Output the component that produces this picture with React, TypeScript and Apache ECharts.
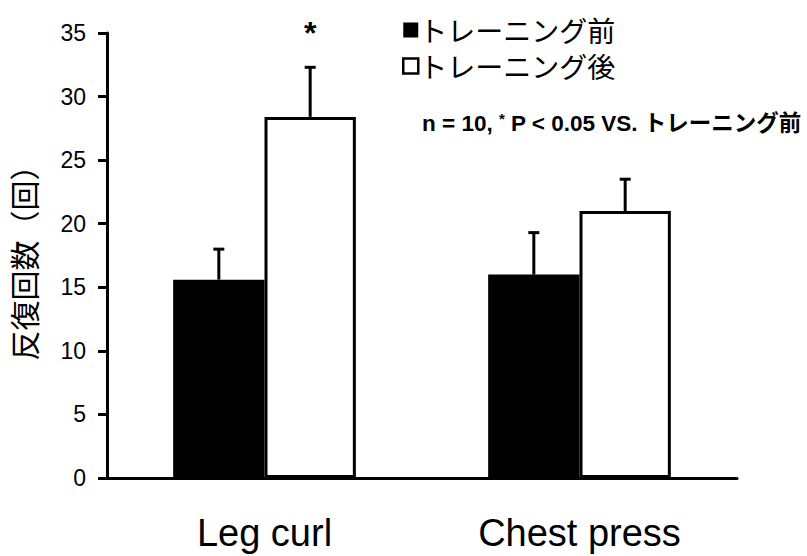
import React, { useEffect, useRef } from "react";
import * as echarts from "echarts";

const categories = ["Leg curl", "Chest press"];
const seriesNames = ["トレーニング前", "トレーニング後"];
const preValues = [15.6, 16.0];
const preErrorTop = [18.0, 19.3];
const postValues = [28.4, 21.0];
const postErrorTop = [32.3, 23.5];
const significance = ["*", ""];
const yAxisName = "反復回数（回）";
const noteText = "n = 10, {s|*} P < 0.05 VS. トレーニング前";

const SANS = "'Liberation Sans', Arial, 'Noto Sans CJK JP', sans-serif";
const CJK = "'Noto Sans CJK JP', sans-serif";
const CAT_GAP = 0.42;

function errorSeries(name: string, values: number[], tops: number[], sign: number, marks: string[]) {
  return {
    type: "custom",
    name: name + "-err",
    silent: true,
    z: 5,
    data: values.map((v, i) => [i, v, tops[i]]),
    renderItem: (params: any, api: any) => {
      const cat = api.value(0);
      const val = api.value(1);
      const top = api.value(2);
      const i = params.dataIndex;
      const band = api.size([1, 0])[0];
      const barW = (band * (1 - CAT_GAP)) / 2;
      const p0 = api.coord([cat, val]);
      const p1 = api.coord([cat, top]);
      const x = p0[0] + (sign * barW) / 2;
      const style = { stroke: "#000", lineWidth: 3 };
      const children: any[] = [
        { type: "line", shape: { x1: x, y1: p0[1], x2: x, y2: p1[1] }, style },
        { type: "line", shape: { x1: x - 5.5, y1: p1[1], x2: x + 5.5, y2: p1[1] }, style },
      ];
      if (marks[i]) {
        children.push({
          type: "text",
          style: {
            text: marks[i],
            x: x,
            y: p1[1] - 34,
            align: "center",
            verticalAlign: "middle",
            fontSize: 32,
            fontWeight: "bold",
            fontFamily: SANS,
            fill: "#000",
          },
        });
      }
      return { type: "group", children };
    },
  };
}

export default function App() {
  const ref = useRef<HTMLDivElement>(null);
  useEffect(() => {
    if (!ref.current) return;
    const chart = echarts.init(ref.current, null, { renderer: "svg" });
    chart.setOption({
      animation: false,
      backgroundColor: "#fff",
      grid: { left: 107, right: 70, top: 33, bottom: 78 },
      legend: {
        orient: "vertical",
        left: 402,
        top: 16,
        padding: 0,
        itemGap: 8,
        itemWidth: 15,
        itemHeight: 15,
        icon: "rect",
        data: [
          { name: seriesNames[0], itemStyle: { color: "#000", borderWidth: 0 } },
          { name: seriesNames[1], itemStyle: { color: "#fff", borderColor: "#000", borderWidth: 2.5 } },
        ],
        textStyle: { fontSize: 28, color: "#000", fontFamily: CJK, padding: [0, 0, 0, -4] },
      },
      xAxis: {
        type: "category",
        data: categories,
        axisLine: { lineStyle: { color: "#000", width: 3 } },
        axisTick: { inside: true, length: 8, lineStyle: { color: "#000", width: 3 } },
        axisLabel: { fontSize: 38, color: "#000", margin: 36, fontFamily: SANS },
      },
      yAxis: {
        type: "value",
        min: 0,
        max: 35,
        interval: 5,
        name: yAxisName,
        nameLocation: "middle",
        nameRotate: 90,
        nameGap: 69,
        nameTextStyle: { fontSize: 30, color: "#000", fontFamily: CJK },
        axisLine: { show: true, lineStyle: { color: "#000", width: 3 } },
        axisTick: { show: true, length: 9, lineStyle: { color: "#000", width: 3 } },
        axisLabel: { fontSize: 23, color: "#000", margin: 21, fontFamily: SANS },
        splitLine: { show: false },
      },
      series: [
        {
          type: "bar",
          name: seriesNames[0],
          data: preValues,
          barGap: "0%",
          barCategoryGap: CAT_GAP * 100 + "%",
          itemStyle: { color: "#000", borderColor: "#000", borderWidth: 0 },
        },
        {
          type: "bar",
          name: seriesNames[1],
          data: postValues,
          barGap: "0%",
          barCategoryGap: CAT_GAP * 100 + "%",
          itemStyle: { color: "#fff", borderColor: "#000", borderWidth: 3 },
        },
        errorSeries(seriesNames[0], preValues, preErrorTop, -1, ["", ""]),
        errorSeries(seriesNames[1], postValues, postErrorTop, 1, significance),
      ],
      graphic: [
        {
          type: "text",
          x: 422,
          y: 123,
          style: {
            text: noteText,
            verticalAlign: "middle",
            fontSize: 22.5,
            fontWeight: "bold",
            fontFamily: SANS,
            fill: "#000",
            rich: {
              s: { fontSize: 15, fontWeight: "bold", fontFamily: SANS, padding: [0, 0, 10, 0] },
            },
          },
        },
      ],
    });
    return () => chart.dispose();
  }, []);
  return <div ref={ref} style={{ width: 807, height: 556, position: "absolute", left: 0, top: 0 }} />;
}
